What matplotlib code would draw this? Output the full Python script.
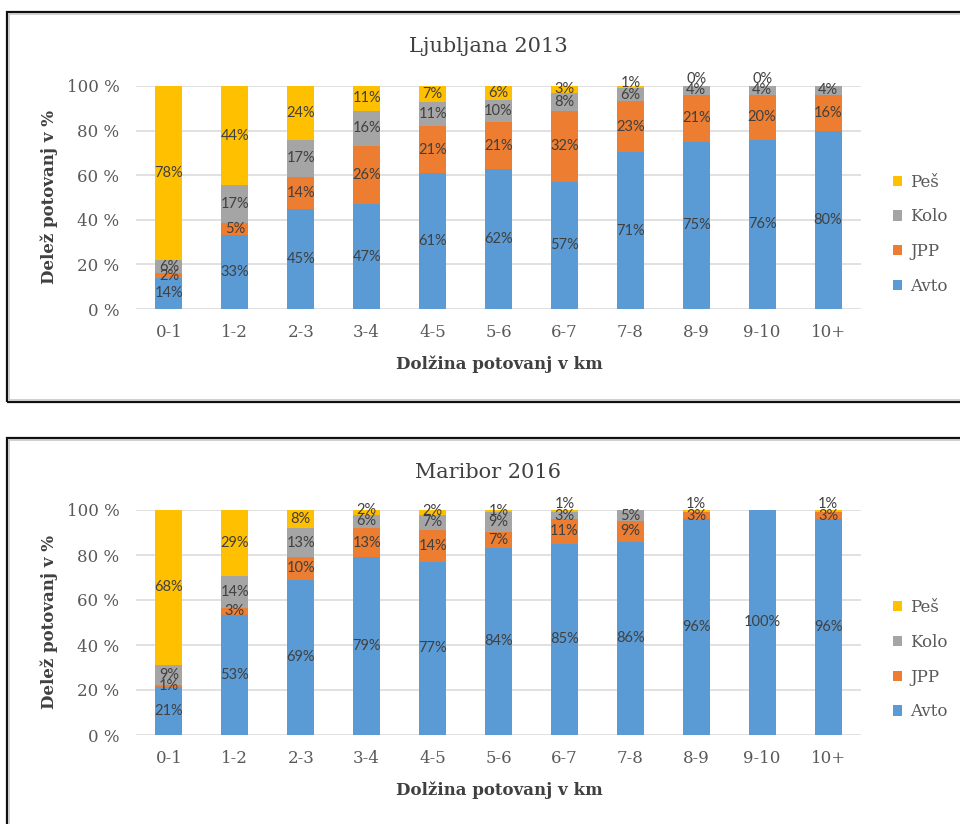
import numpy as np
import matplotlib
matplotlib.use("Agg")
import matplotlib.pyplot as plt
from matplotlib.patches import Rectangle, Patch

# --- data -------------------------------------------------------------
categories = ["0-1", "1-2", "2-3", "3-4", "4-5", "5-6", "6-7", "7-8", "8-9", "9-10", "10+"]
series_names = ["Avto", "JPP", "Kolo", "Peš"]
nan = np.nan

lj_avto = [14, 33, 45, 47, 61, 62, 57, 71, 75, 76, 80]
lj_jpp = [2, 5, 14, 26, 21, 21, 32, 23, 21, 20, 16]
lj_kolo = [6, 17, 17, 16, 11, 10, 8, 6, 4, 4, 4]
lj_pes = [78, 44, 24, 11, 7, 6, 3, 1, 0, 0, nan]

mb_avto = [21, 53, 69, 79, 77, 84, 85, 86, 96, 100, 96]
mb_jpp = [1, 3, 10, 13, 14, 7, 11, 9, 3, nan, 3]
mb_kolo = [9, 14, 13, 6, 7, 9, 3, 5, nan, nan, nan]
mb_pes = [68, 29, 8, 2, 2, 1, 1, nan, 1, nan, 1]

y_ticks = [0, 20, 40, 60, 80, 100]
y_tick_labels = ["0 %", "20 %", "40 %", "60 %", "80 %", "100 %"]

panels = [
    ("Ljubljana 2013", [lj_avto, lj_jpp, lj_kolo, lj_pes]),
    ("Maribor 2016", [mb_avto, mb_jpp, mb_kolo, mb_pes]),
]

# --- style ------------------------------------------------------------
colors = ["#5B9BD5", "#ED7D31", "#A5A5A5", "#FFC000"]
serif = "DejaVu Serif"
label_font = ["Lato", "DejaVu Sans"]
text_dark = "#404040"
tick_col = "#595959"
grid_col = "#D9D9D9"

W, H = 960, 824
fig = plt.figure(figsize=(W / 100, H / 100), dpi=100)


def fx(px):
    return px / W


def fy(py):
    return 1 - py / H


# panel geometry in pixels: plot top/bottom and text rows
layout = [
    dict(top=86, bottom=309, title=46, ylab=197, xlab=364),
    dict(top=510, bottom=735, title=472, ylab=622, xlab=790),
]
plot_left, plot_right = 136, 861

# frames around each chart
frames = [(7, 12, 402), (7, 438, 840)]
for x0, top, bot in frames:
    fig.add_artist(Rectangle((fx(x0), fy(bot)), fx(990 - x0), (bot - top) / H,
                             transform=fig.transFigure, fill=False,
                             edgecolor="#111111", linewidth=1.6, clip_on=False))
    fig.add_artist(Rectangle((fx(x0 + 2.2), fy(bot - 2.2)), fx(990 - x0), (bot - top - 4.4) / H,
                             transform=fig.transFigure, fill=False,
                             edgecolor="#C8C8C8", linewidth=1.2, clip_on=False))

x = np.arange(len(categories))
bar_w = 0.41

for (title, series), lay in zip(panels, layout):
    ax = fig.add_axes([fx(plot_left), fy(lay["bottom"]),
                       (plot_right - plot_left) / W, (lay["bottom"] - lay["top"]) / H])
    vals = np.array(series, dtype=float)
    totals = np.nansum(vals, axis=0)
    shares = np.nan_to_num(vals) / totals * 100

    bottoms = np.zeros(len(categories))
    centers = np.zeros_like(shares)
    for i, name in enumerate(series_names):
        ax.bar(x, shares[i], bar_w, bottom=bottoms, color=colors[i],
               label=name, zorder=3, linewidth=0)
        centers[i] = bottoms + shares[i] / 2
        bottoms = bottoms + shares[i]

    # value labels, centred in each segment; the top label is lifted so it
    # clears the one beneath it
    px_per_unit = (lay["bottom"] - lay["top"]) / 100
    min_gap = 11.5 / px_per_unit
    for j in range(len(categories)):
        prev_y = None
        for i in range(len(series_names)):
            v = vals[i, j]
            if np.isnan(v):
                continue
            y = centers[i, j]
            if i == len(series_names) - 1 and prev_y is not None and y - prev_y < min_gap:
                y = prev_y + min_gap
            ax.text(x[j], y, f"{int(v)}%", ha="center", va="center",
                    family=label_font, fontsize=10.5, color=text_dark, zorder=5)
            prev_y = y

    ax.set_xlim(-0.5, len(categories) - 0.5)
    ax.set_ylim(0, 100)
    ax.set_yticks(y_ticks)
    ax.set_yticklabels(y_tick_labels, family=serif, fontsize=12, color=tick_col)
    ax.set_xticks(x)
    ax.set_xticklabels(categories, family=serif, fontsize=12, color=tick_col)
    ax.tick_params(axis="y", length=0, pad=12)
    ax.tick_params(axis="x", length=0, pad=10.5)
    ax.grid(axis="y", color=grid_col, linewidth=1.1, zorder=0)
    ax.set_axisbelow(True)
    for s in ax.spines.values():
        s.set_visible(False)

    fig.text(fx(488), fy(lay["title"]), title, ha="center", va="center",
             family=serif, fontsize=15, color=text_dark)
    fig.text(fx(49), fy(lay["ylab"]), "Delež potovanj v %", ha="center", va="center",
             rotation=90, family=serif, fontsize=12, fontweight="bold", color=text_dark)
    fig.text(fx(499.5), fy(lay["xlab"]), "Dolžina potovanj v km", ha="center", va="center",
             family=serif, fontsize=12, fontweight="bold", color=text_dark)

    handles = [Patch(facecolor=colors[i], edgecolor="none", label=series_names[i])
               for i in range(len(series_names))][::-1]
    leg = ax.legend(handles=handles, loc="center left", bbox_to_anchor=(1.044, 0.335),
                    frameon=False, borderpad=0, borderaxespad=0,
                    handlelength=0.55, handleheight=0.55, handletextpad=0.5,
                    labelspacing=1.07, prop={"family": serif, "size": 12})
    for t in leg.get_texts():
        t.set_color(tick_col)

fig.savefig("out.png", dpi=100, facecolor="white")
